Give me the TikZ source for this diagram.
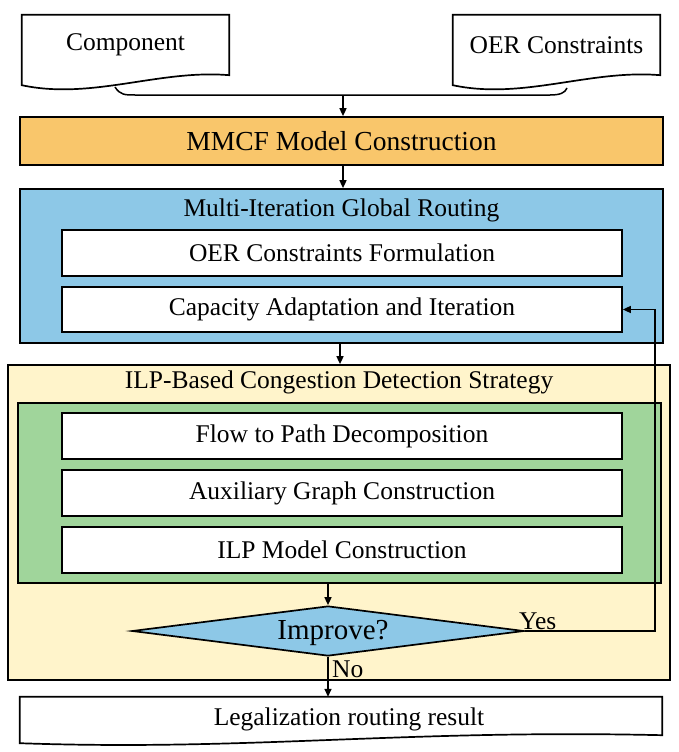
\documentclass[tikz,border=0pt]{standalone}
\usepackage{fontspec}
\setmainfont{Liberation Serif}
\newfontfamily\tnr{Liberation Serif}
\usetikzlibrary{arrows.meta,shapes.geometric,calc}
\definecolor{mmcfF}{HTML}{F9C66B}
\definecolor{blueF}{HTML}{8DC8E7}
\definecolor{yellowF}{HTML}{FFF4CB}
\definecolor{greenF}{HTML}{A0D59B}
\tikzset{
  ln/.style={line width=1.7pt, draw=black},
  arr/.style={line width=1.5pt, -{Triangle[length=8pt,width=7pt]}},
  txt/.style={font=\tnr\fontsize{25.5pt}{28pt}\selectfont},
  docbox/.style={txt, minimum width=207pt, minimum height=60pt, inner sep=0pt},
  bigbox/.style={ln, minimum width=643pt, inner sep=0pt},
  whitebox/.style={ln, fill=white, txt, minimum width=560pt, minimum height=46pt, inner sep=0pt},
  lbl/.style={txt, inner sep=0pt},
}
\begin{document}
\begin{tikzpicture}[x=1pt,y=-1pt]
\useasboundingbox (0,0) rectangle (678,752);
\fill[white] (0,0) rectangle (678,752);

% document inputs
\node[docbox] (comp) at (125.5,45) {Component};
\draw[ln] (comp.north west) -- (comp.north east) -- (comp.south east)
  .. controls ($(comp.south east)+(-70,-6)$) and ($(comp.south west)+(70,25)$) .. ($(comp.south west)+(0,10)$) -- cycle;
\node[docbox] (oer) at (556.5,45) {OER Constraints};
\draw[ln] (oer.north west) -- (oer.north east) -- (oer.south east)
  .. controls ($(oer.south east)+(-70,-6)$) and ($(oer.south west)+(70,25)$) .. ($(oer.south west)+(0,10)$) -- cycle;

% bracket joining the two documents
\coordinate (bl) at (115,87);
\coordinate (br) at (567,88);
\coordinate (bm) at (343,95);
\draw[line width=1.5pt] (bl) .. controls (120,95) and (125,95) .. (135,95) -- (550,95) .. controls (560,95) and (565,93) .. (br);

% MMCF
\node[bigbox, fill=mmcfF, minimum height=48pt, font=\tnr\fontsize{27.5pt}{30pt}\selectfont] (mmcf) at (341.5,141) {MMCF Model Construction};
\draw[arr] (bm) -- (bm |- mmcf.north);

% Multi-iteration global routing
\node[bigbox, fill=blueF, minimum height=154pt] (blue) at (341.5,266) {};
\node[lbl] (bluet) at (341.5,210) {Multi-Iteration Global Routing};
\node[whitebox] (oerf) at (342,253) {OER Constraints Formulation};
\node[whitebox, minimum height=45pt] (cap) at (342,309.5) {Capacity Adaptation and Iteration};
\draw[arr] ($(mmcf.south)+(1.5,0)$) -- ($(mmcf.south |- blue.north)+(1.5,0)$);

% ILP-based congestion detection
\node[ln, fill=yellowF, minimum width=662pt, minimum height=315pt, inner sep=0pt] (yel) at (339,522.5) {};
\node[lbl] (yelt) at (339,382) {ILP-Based Congestion Detection Strategy};
\node[bigbox, fill=greenF, minimum height=180pt] (grn) at (339.5,493) {};
\node[whitebox] (flow) at (342,436) {Flow to Path Decomposition};
\node[whitebox] (aux) at (342,493) {Auxiliary Graph Construction};
\node[whitebox] (ilp) at (342,550) {ILP Model Construction};
\draw[arr] ($(blue.south)+(-1.5,0)$) -- ($(blue.south |- yel.north)+(-1.5,0)$);

% decision
\node[ln, fill=blueF, diamond, aspect=7.84, minimum width=392pt, minimum height=50pt, inner sep=0pt] (dia) at (328,631) {};
\node[lbl, font=\tnr\fontsize{29pt}{31pt}\selectfont] (diat) at (333,633) {Improve?};
\draw[arr] (dia.north |- grn.south) -- (dia.north);

% Yes loop
\coordinate (yx) at (655,631);
\draw[arr] (dia.east) -- (yx) |- (cap.east);
\node[lbl, anchor=base west] (yes) at (519,629) {Yes};

% result
\node[minimum width=642pt, minimum height=38pt, inner sep=0pt] (legal) at (341,716) {};
\draw[ln] (legal.north west) -- (legal.north east) -- (legal.south east)
  .. controls ($(legal.south east)+(-260,-6)$) and ($(legal.south west)+(230,16)$) .. ($(legal.south west)+(0,8)$) -- cycle;
\node[lbl] (legalt) at (349,719) {Legalization routing result};
\draw[arr] (dia.south) -- (dia.south |- legal.north);
\node[lbl, anchor=base west] (no) at (332,677) {No};
\end{tikzpicture}
\end{document}
